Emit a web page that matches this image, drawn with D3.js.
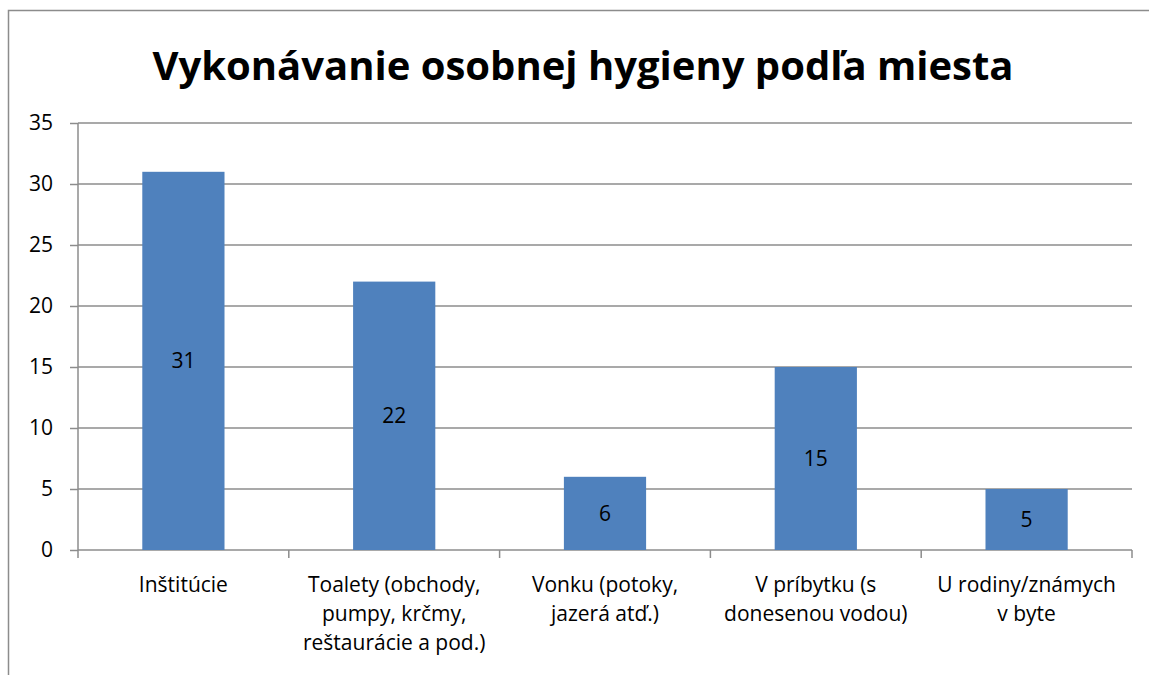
<!DOCTYPE html>
<html>
<head>
<meta charset="utf-8">
<script src="https://d3js.org/d3.v7.min.js"></script>
<style>
  body { margin: 0; background: #fff; }
  text { font-family: "Open Sans", "Noto Sans", sans-serif; fill: #000; }
</style>
</head>
<body>
<div id="chart"></div>
<script>
// Data
var categories = [
  ["Inštitúcie"],
  ["Toalety (obchody,", "pumpy, krčmy,", "reštaurácie a pod.)"],
  ["Vonku (potoky,", "jazerá atď.)"],
  ["V príbytku (s", "donesenou vodou)"],
  ["U rodiny/známych", "v byte"]
];
var values = [31, 22, 6, 15, 5];
var yTicks = [0, 5, 10, 15, 20, 25, 30, 35];
var title = "Vykonávanie osobnej hygieny podľa miesta";

var W = 1149, H = 675;
var plotLeft = 78, plotRight = 1132, plotTop = 123, plotBottom = 550;

var svg = d3.select("#chart").append("svg")
  .attr("width", W).attr("height", H);

// outer chart border (runs off the picture on the right and bottom)
svg.append("rect")
  .attr("x", 8.5).attr("y", 10.5)
  .attr("width", 1200).attr("height", 700)
  .attr("fill", "none").attr("stroke", "#8c8c8c").attr("stroke-width", 1.5);

var x = d3.scaleBand()
  .domain(d3.range(categories.length))
  .range([plotLeft, plotRight])
  .paddingInner(0.61).paddingOuter(0.305);

var y = d3.scaleLinear().domain([0, 35]).range([plotBottom, plotTop]);

// gridlines
svg.append("g").selectAll("line")
  .data(yTicks.filter(function(d) { return d > 0; }))
  .enter().append("line")
    .attr("x1", plotLeft).attr("x2", plotRight)
    .attr("y1", function(d) { return y(d); })
    .attr("y2", function(d) { return y(d); })
    .attr("stroke", "#8c8c8c").attr("stroke-width", 1.5);

// y axis
var yAxis = svg.append("g")
  .attr("transform", "translate(" + plotLeft + ",0)")
  .call(d3.axisLeft(y).tickValues(yTicks).tickSize(8).tickPadding(17));
yAxis.selectAll("path, line").attr("stroke", "#8c8c8c").attr("stroke-width", 1.5);
yAxis.select(".domain").attr("d", "M0," + plotTop + "V" + plotBottom);
yAxis.selectAll("text").style("font-size", "21px").attr("fill", "#000")
  .attr("font-family", "Open Sans");

// x axis
var step = (plotRight - plotLeft) / categories.length;
var xb = svg.append("g");
xb.append("line")
  .attr("x1", plotLeft).attr("x2", plotRight)
  .attr("y1", plotBottom).attr("y2", plotBottom)
  .attr("stroke", "#8c8c8c").attr("stroke-width", 1.5);
xb.selectAll("line.tick")
  .data(d3.range(categories.length + 1))
  .enter().append("line")
    .attr("class", "tick")
    .attr("x1", function(d) { return plotLeft + d * step; })
    .attr("x2", function(d) { return plotLeft + d * step; })
    .attr("y1", plotBottom).attr("y2", plotBottom + 8)
    .attr("stroke", "#8c8c8c").attr("stroke-width", 1.5);

// bars
svg.append("g").selectAll("rect")
  .data(values)
  .enter().append("rect")
    .attr("x", function(d, i) { return x(i); })
    .attr("y", function(d) { return y(d); })
    .attr("width", x.bandwidth())
    .attr("height", function(d) { return plotBottom - y(d); })
    .attr("fill", "#4f81bd");

// value labels
svg.append("g").selectAll("text")
  .data(values)
  .enter().append("text")
    .attr("x", function(d, i) { return x(i) + x.bandwidth() / 2; })
    .attr("y", function(d) { return (y(d) + plotBottom) / 2; })
    .attr("dy", "0.35em")
    .attr("text-anchor", "middle")
    .style("font-size", "21px")
    .text(function(d) { return d; });

// category labels
var cl = svg.append("g").selectAll("text")
  .data(categories)
  .enter().append("text")
    .attr("text-anchor", "middle")
    .style("font-size", "21px");
cl.selectAll("tspan")
  .data(function(d, i) { return d.map(function(t) { return { t: t, i: i }; }); })
  .enter().append("tspan")
    .attr("x", function(d) { return x(d.i) + x.bandwidth() / 2; })
    .attr("y", function(d, j) { return 592 + j * 29; })
    .text(function(d) { return d.t; });

// title
svg.append("text")
  .attr("x", 583).attr("y", 80)
  .attr("text-anchor", "middle")
  .style("font-size", "40px").style("font-weight", "bold")
  .text(title);
</script>
</body>
</html>
